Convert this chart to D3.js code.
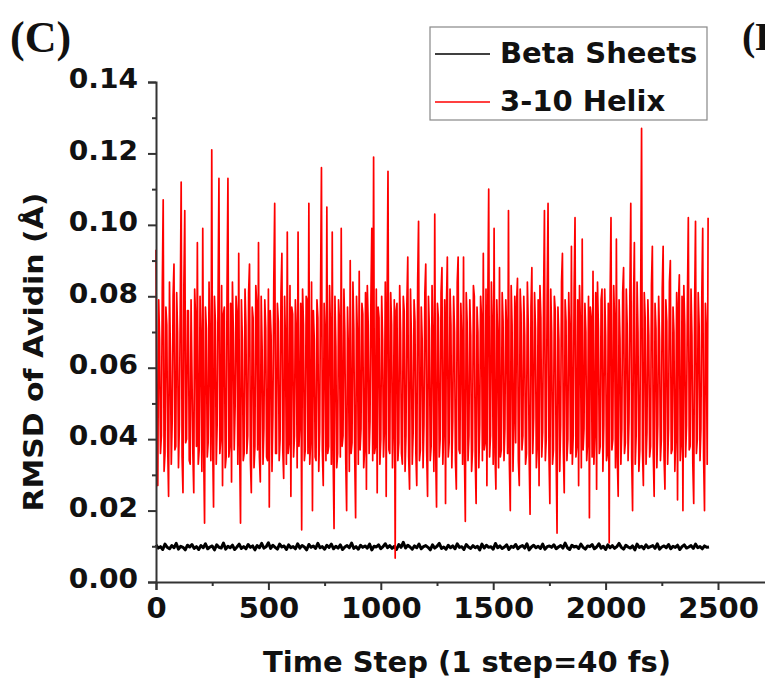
<!DOCTYPE html>
<html>
<head>
<meta charset="utf-8">
<script src="https://cdn.jsdelivr.net/npm/d3@7"></script>
<style>
  body { margin: 0; background: #fff; }
  text { font-family: "DejaVu Sans", sans-serif; font-weight: bold; fill: #111; }
</style>
</head>
<body>
<div id="chart"></div>
<script>
// sampling interval of each series (time steps)
var helixStep = 4;
var betaStep = 10;

// 3-10 helix RMSD, one value every 4 steps (0 .. 2456)
var helixRmsd = [
  0.093,0.034,0.027,0.079,0.068,0.036,0.041,0.082,0.107,0.031,0.036,0.077,0.072,0.038,0.024,0.084,0.064,0.033,0.045,0.080,
  0.089,0.037,0.038,0.081,0.070,0.032,0.044,0.078,0.112,0.035,0.025,0.083,0.104,0.039,0.040,0.076,0.076,0.034,0.033,0.079,
  0.058,0.036,0.025,0.082,0.074,0.038,0.095,0.033,0.037,0.080,0.066,0.031,0.099,0.037,0.0165,0.077,0.071,0.035,0.039,0.084,
  0.062,0.034,0.121,0.039,0.021,0.080,0.073,0.033,0.044,0.079,0.113,0.036,0.040,0.083,0.027,0.075,0.077,0.032,0.035,0.081,
  0.113,0.035,0.038,0.078,0.028,0.084,0.070,0.037,0.049,0.080,0.075,0.033,0.092,0.038,0.0165,0.079,0.068,0.034,0.036,0.082,
  0.072,0.036,0.041,0.081,0.089,0.034,0.025,0.077,0.074,0.032,0.038,0.083,0.078,0.037,0.095,0.035,0.028,0.080,0.066,0.033,
  0.043,0.079,0.071,0.035,0.034,0.082,0.021,0.076,0.069,0.031,0.047,0.084,0.106,0.036,0.036,0.078,0.073,0.034,0.040,0.081,
  0.092,0.037,0.029,0.080,0.067,0.033,0.098,0.036,0.039,0.083,0.024,0.077,0.075,0.035,0.041,0.079,0.070,0.032,0.098,0.038,
  0.045,0.078,0.0146,0.082,0.072,0.034,0.037,0.080,0.079,0.036,0.106,0.033,0.040,0.084,0.020,0.076,0.068,0.035,0.034,0.079,
  0.074,0.031,0.042,0.081,0.116,0.037,0.027,0.078,0.069,0.034,0.105,0.036,0.038,0.083,0.071,0.033,0.098,0.035,0.015,0.080,
  0.066,0.032,0.036,0.079,0.073,0.035,0.099,0.038,0.041,0.082,0.070,0.034,0.020,0.077,0.064,0.031,0.090,0.036,0.039,0.084,
  0.071,0.035,0.018,0.080,0.069,0.033,0.087,0.037,0.043,0.078,0.075,0.032,0.037,0.081,0.026,0.083,0.072,0.036,0.045,0.079,
  0.099,0.034,0.119,0.036,0.038,0.082,0.025,0.077,0.074,0.033,0.040,0.080,0.068,0.035,0.043,0.084,0.024,0.078,0.115,0.037,
  0.036,0.081,0.072,0.032,0.045,0.079,0.0067,0.076,0.078,0.034,0.039,0.083,0.070,0.036,0.033,0.080,0.076,0.031,0.041,0.078,
  0.091,0.035,0.026,0.082,0.069,0.033,0.042,0.079,0.073,0.036,0.027,0.084,0.101,0.034,0.037,0.077,0.068,0.032,0.044,0.081,
  0.089,0.037,0.024,0.080,0.071,0.034,0.038,0.083,0.066,0.031,0.103,0.036,0.021,0.078,0.074,0.035,0.040,0.081,0.088,0.033,
  0.043,0.079,0.022,0.077,0.091,0.035,0.039,0.082,0.072,0.032,0.045,0.080,0.070,0.034,0.026,0.084,0.091,0.037,0.036,0.078,
  0.068,0.033,0.091,0.036,0.017,0.081,0.073,0.034,0.041,0.079,0.069,0.031,0.037,0.083,0.080,0.035,0.022,0.077,0.070,0.032,
  0.044,0.080,0.074,0.034,0.092,0.037,0.039,0.082,0.027,0.078,0.110,0.035,0.041,0.084,0.071,0.033,0.099,0.036,0.026,0.079,
  0.068,0.032,0.088,0.035,0.037,0.081,0.073,0.034,0.043,0.079,0.070,0.036,0.104,0.033,0.020,0.083,0.072,0.031,0.045,0.080,
  0.039,0.078,0.085,0.034,0.027,0.082,0.075,0.037,0.041,0.080,0.069,0.033,0.036,0.084,0.072,0.035,0.019,0.077,0.088,0.036,
  0.046,0.081,0.071,0.032,0.038,0.079,0.027,0.083,0.074,0.035,0.042,0.078,0.104,0.034,0.040,0.080,0.106,0.036,0.022,0.082,
  0.070,0.033,0.037,0.080,0.076,0.035,0.0137,0.077,0.068,0.031,0.044,0.084,0.092,0.037,0.025,0.079,0.073,0.034,0.040,0.081,
  0.069,0.036,0.094,0.033,0.041,0.082,0.102,0.035,0.038,0.079,0.027,0.083,0.072,0.032,0.096,0.037,0.043,0.078,0.070,0.034,
  0.039,0.080,0.018,0.077,0.074,0.035,0.087,0.033,0.042,0.081,0.026,0.084,0.071,0.036,0.038,0.079,0.082,0.031,0.044,0.082,
  0.069,0.034,0.036,0.078,0.011,0.080,0.102,0.037,0.040,0.083,0.073,0.032,0.096,0.035,0.024,0.079,0.068,0.033,0.043,0.081,
  0.088,0.036,0.039,0.082,0.072,0.034,0.045,0.080,0.106,0.035,0.020,0.077,0.095,0.033,0.041,0.084,0.070,0.031,0.037,0.079,
  0.127,0.037,0.027,0.081,0.074,0.033,0.042,0.079,0.069,0.035,0.038,0.083,0.094,0.036,0.024,0.078,0.071,0.032,0.044,0.080,
  0.068,0.034,0.040,0.082,0.094,0.035,0.026,0.079,0.073,0.033,0.043,0.084,0.090,0.036,0.037,0.077,0.070,0.031,0.041,0.081,
  0.023,0.078,0.086,0.034,0.039,0.080,0.020,0.083,0.072,0.035,0.044,0.079,0.102,0.037,0.038,0.082,0.069,0.033,0.022,0.077,
  0.101,0.036,0.040,0.081,0.072,0.034,0.043,0.080,0.099,0.035,0.020,0.078,0.070,0.033,0.102
];

// beta sheets RMSD, one value every 10 steps (0 .. 2460)
var betaRmsd = [
  0.0104,0.0095,0.0099,0.0091,0.0106,0.0097,0.0093,0.0102,0.0096,0.0108,
  0.0092,0.0100,0.0097,0.0090,0.0103,0.0098,0.0105,0.0094,0.0099,0.0091,
  0.0102,0.0096,0.0107,0.0093,0.0098,0.0101,0.0090,0.0104,0.0097,0.0095,
  0.0109,0.0092,0.0100,0.0096,0.0103,0.0091,0.0098,0.0106,0.0094,0.0099,
  0.0093,0.0105,0.0097,0.0101,0.0090,0.0102,0.0096,0.0108,0.0095,0.0099,
  0.0110,0.0094,0.0103,0.0097,0.0092,0.0106,0.0098,0.0101,0.0091,0.0104,
  0.0096,0.0099,0.0093,0.0107,0.0095,0.0102,0.0098,0.0090,0.0105,0.0097,
  0.0101,0.0094,0.0108,0.0096,0.0099,0.0092,0.0103,0.0097,0.0106,0.0093,
  0.0100,0.0095,0.0104,0.0091,0.0098,0.0102,0.0096,0.0109,0.0094,0.0099,
  0.0092,0.0103,0.0097,0.0101,0.0095,0.0106,0.0090,0.0100,0.0098,0.0104,
  0.0093,0.0099,0.0107,0.0096,0.0102,0.0094,0.0100,0.0091,0.0105,0.0097,
  0.0111,0.0095,0.0103,0.0098,0.0092,0.0101,0.0096,0.0106,0.0093,0.0099,
  0.0102,0.0097,0.0090,0.0104,0.0095,0.0100,0.0108,0.0094,0.0098,0.0092,
  0.0103,0.0096,0.0101,0.0093,0.0107,0.0097,0.0099,0.0091,0.0105,0.0098,
  0.0094,0.0102,0.0096,0.0100,0.0090,0.0106,0.0095,0.0103,0.0097,0.0099,
  0.0092,0.0108,0.0096,0.0101,0.0094,0.0098,0.0104,0.0091,0.0100,0.0097,
  0.0105,0.0093,0.0099,0.0102,0.0095,0.0107,0.0090,0.0098,0.0103,0.0096,
  0.0100,0.0094,0.0106,0.0092,0.0099,0.0101,0.0097,0.0104,0.0093,0.0098,
  0.0102,0.0095,0.0109,0.0096,0.0091,0.0103,0.0098,0.0100,0.0094,0.0106,
  0.0097,0.0092,0.0101,0.0099,0.0105,0.0093,0.0098,0.0107,0.0095,0.0100,
  0.0091,0.0104,0.0096,0.0102,0.0094,0.0099,0.0108,0.0097,0.0092,0.0103,
  0.0098,0.0095,0.0101,0.0090,0.0106,0.0097,0.0100,0.0093,0.0104,0.0096,
  0.0099,0.0102,0.0094,0.0107,0.0092,0.0098,0.0101,0.0096,0.0105,0.0093,
  0.0100,0.0097,0.0103,0.0091,0.0099,0.0104,0.0095,0.0098,0.0102,0.0094,
  0.0106,0.0096,0.0099,0.0093,0.0101,0.0097,0.0098
];

var seriesNames = ["Beta Sheets", "3-10 Helix"];
var seriesColors = ["#000000", "#ff0000"];

var xTicks = [0, 500, 1000, 1500, 2000, 2500];
var xMinor = [250, 750, 1250, 1750, 2250, 2750];
var yTicks = [0, 0.02, 0.04, 0.06, 0.08, 0.10, 0.12, 0.14];
var yMinor = [0.01, 0.03, 0.05, 0.07, 0.09, 0.11, 0.13];

var w = 765, h = 679;

var svg = d3.select("#chart")
  .append("svg")
  .attr("width", w)
  .attr("height", h);

var xScale = d3.scaleLinear()
  .domain([0, 2750])
  .range([156, 774.2]);

var yScale = d3.scaleLinear()
  .domain([0, 0.14])
  .range([582, 82]);

// series (beta first, helix drawn on top)
var line = function(step) {
  return d3.line()
    .x(function(d, i) { return xScale(i * step); })
    .y(function(d) { return yScale(d); });
};

svg.append("path")
  .datum(betaRmsd)
  .attr("d", line(betaStep))
  .attr("fill", "none")
  .attr("stroke", seriesColors[0])
  .attr("stroke-width", 3)
  .attr("stroke-linejoin", "round");

svg.append("path")
  .datum(helixRmsd)
  .attr("d", line(helixStep))
  .attr("fill", "none")
  .attr("stroke", seriesColors[1])
  .attr("stroke-width", 1.7)
  .attr("stroke-linejoin", "round");

// axes
var yAxis = d3.axisLeft(yScale)
  .tickValues(yTicks)
  .tickFormat(d3.format(".2f"))
  .tickSize(8)
  .tickPadding(10);

var yMinorAxis = d3.axisLeft(yScale)
  .tickValues(yMinor)
  .tickFormat("")
  .tickSize(4);

var xAxis = d3.axisBottom(xScale)
  .tickValues(xTicks)
  .tickFormat(d3.format("d"))
  .tickSize(8)
  .tickPadding(7);

var xMinorAxis = d3.axisBottom(xScale)
  .tickValues(xMinor)
  .tickFormat("")
  .tickSize(4);

var gy = svg.append("g")
  .attr("transform", "translate(156,0)")
  .call(yAxis);
svg.append("g")
  .attr("transform", "translate(156,0)")
  .call(yMinorAxis)
  .select(".domain").remove();

var gx = svg.append("g")
  .attr("transform", "translate(0,582)")
  .call(xAxis);
svg.append("g")
  .attr("transform", "translate(0,582)")
  .call(xMinorAxis)
  .select(".domain").remove();

svg.selectAll(".domain, .tick line")
  .attr("stroke", "#333")
  .attr("stroke-width", 2);

gy.selectAll(".tick text")
  .attr("font-size", "26px")
  .attr("dy", "0.22em")
  .attr("x", -18 / 1.08)
  .attr("transform", "scale(1.08,1)");

gx.selectAll(".tick text")
  .attr("font-size", "29px");

svg.selectAll(".tick text")
  .attr("font-family", "DejaVu Sans")
  .attr("fill", "#111");

// axis titles
svg.append("text")
  .attr("transform", "translate(43,352) rotate(-90) scale(1.15,1)")
  .attr("text-anchor", "middle")
  .attr("font-size", "26px")
  .text("RMSD of Avidin (Å)");

svg.append("text")
  .attr("x", 467)
  .attr("y", 672)
  .attr("text-anchor", "middle")
  .attr("font-size", "29px")
  .text("Time Step (1 step=40 fs)");

// panel labels ("(D)" belongs to the next panel and is cut by the edge)
svg.append("text")
  .attr("x", 10)
  .attr("y", 52)
  .style("font-family", "'Liberation Serif', serif")
  .attr("font-size", "44px")
  .text("(C)");

svg.append("text")
  .attr("x", 742)
  .attr("y", 50)
  .style("font-family", "'Liberation Serif', serif")
  .attr("font-size", "40px")
  .text("(D)");

// legend
var legend = svg.append("g");
legend.append("rect")
  .attr("x", 430)
  .attr("y", 27)
  .attr("width", 277)
  .attr("height", 93)
  .attr("fill", "none")
  .attr("stroke", "#888")
  .attr("stroke-width", 1.2);

var items = legend.selectAll(".item")
  .data(seriesNames)
  .enter()
  .append("g")
  .attr("transform", function(d, i) { return "translate(0," + (i * 48) + ")"; });

items.append("line")
  .attr("x1", 435)
  .attr("x2", 490)
  .attr("y1", 54)
  .attr("y2", 54)
  .attr("stroke", function(d, i) { return seriesColors[i]; })
  .attr("stroke-width", 1.5);

items.append("text")
  .attr("x", 500)
  .attr("y", 63)
  .attr("font-size", "29px")
  .text(function(d) { return d; });
</script>
</body>
</html>
